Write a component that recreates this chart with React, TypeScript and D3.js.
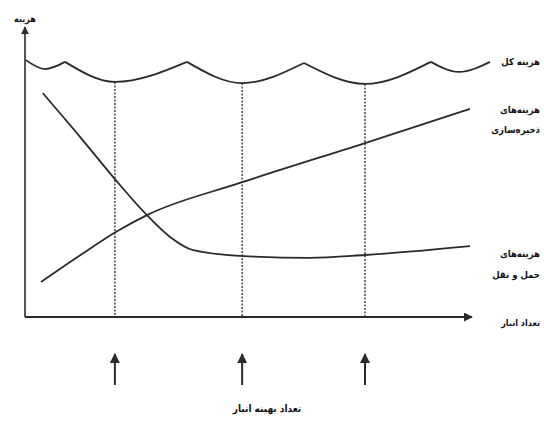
import React from 'react';
import * as d3 from 'd3';

// x: number of warehouses (0..100 schematic), y: cost (0..100 schematic)
const transportX = [4.0, 12.4, 20.4, 27.4, 32.6, 37.8, 48.3, 64.0, 76.4, 100];
const transportY = [78.0, 62.7, 47.7, 35.5, 27.9, 23.3, 21.3, 20.6, 21.6, 24.7];

const storageX = [3.6, 12.4, 20.4, 27.4, 48.3, 76.4, 100];
const storageY = [12.2, 21.5, 29.6, 35.5, 46.7, 60.6, 72.5];

// total cost: scalloped curve, cusps between dips
const cuspX = [0.2, 9.0, 36.4, 62.7, 91.2, 104.5];
const cuspY = [89.5, 88.9, 88.9, 88.5, 88.9, 88.9];
const dipX = [4.5, 20.2, 48.8, 76.4, 97.5];
const dipY = [86.4, 81.9, 81.5, 81.2, 85.4];

// optimal number of warehouses (dips of total cost)
const optimalIdx = [1, 2, 3];

const labels = {
  yAxis: 'هزینه',
  xAxis: 'تعداد انبار',
  total: 'هزینه کل',
  storage: ['هزینه\u200cهای', 'ذخیره\u200cسازی'],
  transport: ['هزینه\u200cهای', 'حمل و نقل'],
  optimal: 'تعداد بهینه انبار',
};

const W = 544;
const H = 442;
const ink = '#2a2a2a';
const font = '"DejaVu Sans Condensed", "DejaVu Sans", sans-serif';

const App: React.FC = () => {
  const x = d3.scaleLinear().domain([0, 100]).range([25, 470]);
  const y = d3.scaleLinear().domain([0, 100]).range([317, 30]);

  const line = d3.line<[number, number]>()
    .x(d => x(d[0]))
    .y(d => y(d[1]))
    .curve(d3.curveMonotoneX);

  const transport = line(transportX.map((v, i) => [v, transportY[i]]));
  const storage = line(storageX.map((v, i) => [v, storageY[i]]));

  // each scallop: cusp -> dip -> cusp, flat at the dip, steep at the cusps
  const scallops = dipX.map((dx, i) =>
    line([[cuspX[i], cuspY[i]], [dx, dipY[i]], [cuspX[i + 1], cuspY[i + 1]]])
  );

  const sideLabel = (text: string, yPos: number) => (
    <text x={540} y={yPos} fontSize={9.5} textAnchor="end">
      {text}
    </text>
  );

  return (
    <svg width={W} height={H} style={{ position: 'absolute', left: 0, top: 0, background: '#fff' }}>
      <defs>
        <marker id="ah" viewBox="0 0 10 10" refX="9" refY="5" markerWidth="5" markerHeight="5" orient="auto-start-reverse">
          <path d="M0,0 L10,5 L0,10 z" fill={ink} />
        </marker>
      </defs>

      {/* axes */}
      <line x1={x(0)} y1={y(0)} x2={x(0)} y2={27} stroke={ink} strokeWidth={1.6} markerEnd="url(#ah)" />
      <line x1={x(0)} y1={y(0)} x2={472} y2={y(0)} stroke={ink} strokeWidth={1.8} markerEnd="url(#ah)" />

      {/* dashed optimal lines */}
      {optimalIdx.map(i => (
        <line key={i} x1={x(dipX[i])} x2={x(dipX[i])} y1={y(dipY[i])} y2={y(0)}
          stroke={ink} strokeWidth={1.3} strokeDasharray="2,1.5" />
      ))}

      {/* total cost */}
      {scallops.map((d, i) => (
        <path key={i} d={d ?? ''} fill="none" stroke={ink} strokeWidth={1.8} />
      ))}

      <path d={transport ?? ''} fill="none" stroke={ink} strokeWidth={1.8} />
      <path d={storage ?? ''} fill="none" stroke={ink} strokeWidth={1.8} />

      {/* arrows below */}
      {optimalIdx.map(i => (
        <line key={i} x1={x(dipX[i])} x2={x(dipX[i])} y1={385} y2={354}
          stroke={ink} strokeWidth={2} markerEnd="url(#ah)" />
      ))}

      <g fontFamily={font} fontWeight="bold" fill="#111">
        <text x={x(0)} y={22} fontSize={9} textAnchor="middle">{labels.yAxis}</text>
        {sideLabel(labels.total, 65)}
        {sideLabel(labels.storage[0], 113)}
        {sideLabel(labels.storage[1], 133)}
        {sideLabel(labels.transport[0], 257)}
        {sideLabel(labels.transport[1], 278)}
        <text x={540} y={326} fontSize={9} textAnchor="end">{labels.xAxis}</text>
        <text x={267} y={412} fontSize={10} textAnchor="middle">{labels.optimal}</text>
      </g>
    </svg>
  );
};

export default App;
